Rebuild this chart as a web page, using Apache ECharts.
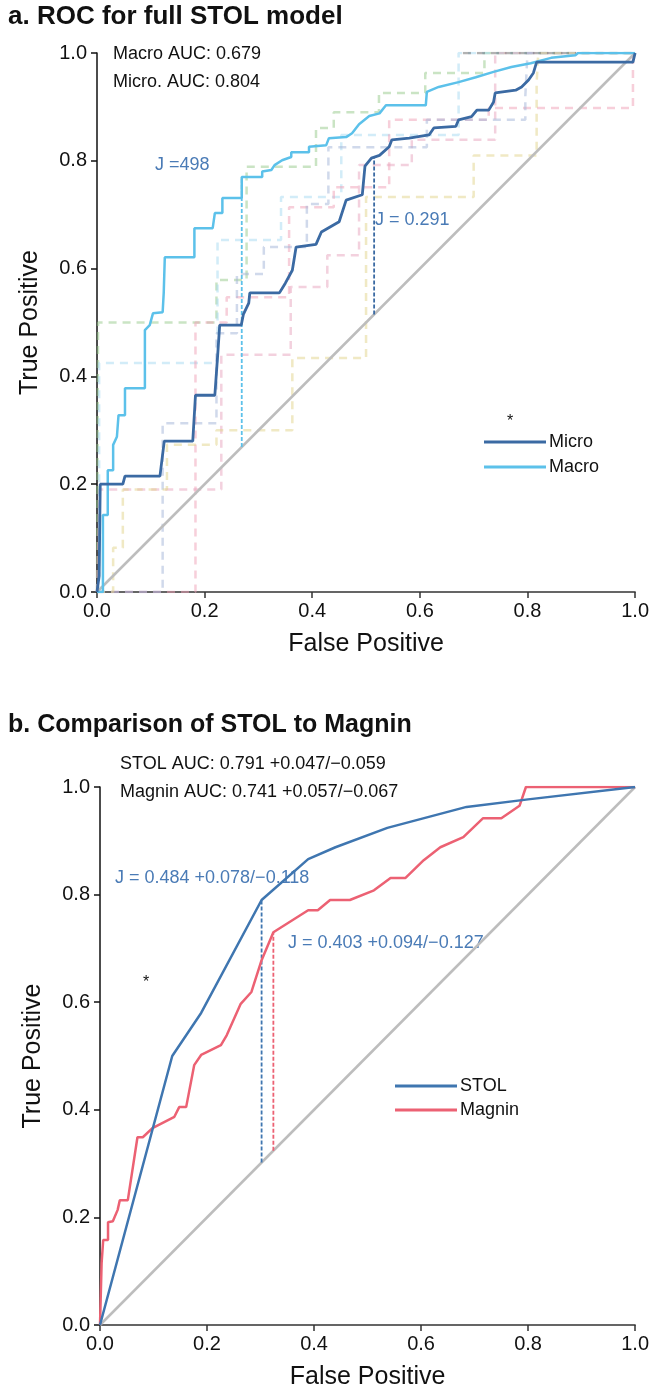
<!DOCTYPE html>
<html>
<head>
<meta charset="utf-8">
<script src="https://cdn.jsdelivr.net/npm/echarts@6/dist/echarts.min.js"></script>
<style>
  html, body { margin: 0; background: #fff; }
  #chart { width: 652px; height: 1392px; }
</style>
</head>
<body>
<div id="chart"></div>
<script>
// ---- panel a: ROC curves [fpr, tpr] ----
const microRoc = [[0,0],[0.004,0.03],[0.006,0.2],[0.048,0.2],[0.052,0.215],[0.117,0.215],[0.125,0.28],[0.178,0.28],[0.183,0.365],[0.219,0.365],[0.225,0.45],[0.228,0.495],[0.268,0.495],[0.272,0.515],[0.282,0.536],[0.284,0.555],[0.339,0.555],[0.35,0.573],[0.363,0.597],[0.37,0.64],[0.407,0.645],[0.417,0.668],[0.45,0.687],[0.463,0.727],[0.493,0.737],[0.498,0.79],[0.51,0.805],[0.525,0.81],[0.543,0.826],[0.548,0.839],[0.58,0.842],[0.617,0.848],[0.626,0.861],[0.667,0.864],[0.672,0.876],[0.696,0.882],[0.706,0.894],[0.728,0.894],[0.737,0.909],[0.74,0.926],[0.778,0.931],[0.789,0.937],[0.802,0.95],[0.811,0.963],[0.817,0.983],[0.996,0.983],[1,1]];
const macroRoc = [[0,0],[0.011,0],[0.011,0.143],[0.02,0.143],[0.02,0.226],[0.03,0.226],[0.03,0.273],[0.037,0.288],[0.04,0.328],[0.052,0.328],[0.052,0.378],[0.089,0.378],[0.089,0.486],[0.098,0.495],[0.104,0.517],[0.122,0.519],[0.124,0.555],[0.126,0.621],[0.181,0.621],[0.181,0.675],[0.215,0.675],[0.219,0.703],[0.233,0.703],[0.233,0.731],[0.269,0.731],[0.269,0.77],[0.307,0.77],[0.307,0.78],[0.324,0.783],[0.33,0.792],[0.344,0.801],[0.361,0.807],[0.361,0.816],[0.394,0.816],[0.394,0.826],[0.426,0.829],[0.431,0.842],[0.463,0.844],[0.474,0.851],[0.487,0.868],[0.506,0.883],[0.525,0.888],[0.537,0.903],[0.611,0.903],[0.613,0.928],[0.635,0.937],[0.672,0.946],[0.704,0.955],[0.737,0.965],[0.77,0.974],[0.806,0.981],[0.844,0.991],[0.889,0.996],[0.894,1],[1,1]];

// per-class curves (faint dashed)
const classGreen = [[0,0],[0.002,0],[0.002,0.5],[0.222,0.5],[0.222,0.579],[0.278,0.579],[0.278,0.789],[0.407,0.789],[0.407,0.861],[0.44,0.861],[0.44,0.89],[0.524,0.89],[0.524,0.926],[0.61,0.926],[0.61,0.963],[0.72,0.963],[0.72,1],[1,1]];
const classSky = [[0,0],[0.004,0],[0.004,0.425],[0.224,0.425],[0.224,0.653],[0.342,0.653],[0.342,0.733],[0.454,0.733],[0.454,0.848],[0.672,0.848],[0.672,1],[1,1]];
const classPinkA = [[0,0],[0.183,0],[0.183,0.5],[0.241,0.5],[0.241,0.547],[0.357,0.547],[0.357,0.714],[0.44,0.714],[0.44,0.751],[0.543,0.751],[0.543,0.876],[0.728,0.876],[0.728,0.898],[0.996,0.898],[0.996,1],[1,1]];
const classPinkB = [[0,0],[0.005,0.19],[0.231,0.19],[0.231,0.44],[0.36,0.44],[0.36,0.566],[0.428,0.566],[0.428,0.625],[0.487,0.625],[0.487,0.792],[0.585,0.792],[0.585,0.839],[0.74,0.839],[0.74,1],[1,1]];
const classSlate = [[0,0],[0.122,0],[0.122,0.313],[0.222,0.313],[0.222,0.48],[0.26,0.48],[0.26,0.59],[0.31,0.59],[0.31,0.64],[0.39,0.64],[0.39,0.72],[0.43,0.72],[0.43,0.825],[0.613,0.825],[0.613,0.876],[0.796,0.876],[0.796,0.92],[0.8,1],[1,1]];
const classYellow = [[0,0],[0.03,0],[0.03,0.082],[0.048,0.082],[0.048,0.19],[0.13,0.19],[0.13,0.273],[0.222,0.273],[0.222,0.3],[0.363,0.3],[0.363,0.434],[0.5,0.434],[0.5,0.733],[0.7,0.733],[0.7,0.81],[0.817,0.81],[0.817,0.944],[0.82,1],[1,1]];
const classGray = [[0.68,1],[0.89,1]];

const macroJ = [0.269, 0.77];
const microJ = [0.515, 0.805];

// ---- panel b: STOL vs Magnin ----
const stolRoc = [[0,0],[0.135,0.5],[0.189,0.58],[0.302,0.79],[0.389,0.866],[0.44,0.888],[0.537,0.924],[0.685,0.963],[0.8,0.977],[1,1]];
const magninRoc = [[0,0],[0.003,0.115],[0.006,0.158],[0.015,0.158],[0.015,0.191],[0.024,0.193],[0.033,0.214],[0.037,0.232],[0.052,0.232],[0.07,0.349],[0.08,0.349],[0.098,0.366],[0.139,0.387],[0.148,0.405],[0.161,0.405],[0.176,0.483],[0.189,0.502],[0.226,0.52],[0.237,0.539],[0.263,0.597],[0.283,0.619],[0.302,0.678],[0.324,0.73],[0.389,0.771],[0.407,0.771],[0.43,0.79],[0.467,0.79],[0.512,0.808],[0.543,0.831],[0.571,0.831],[0.605,0.864],[0.636,0.888],[0.679,0.907],[0.716,0.942],[0.75,0.942],[0.784,0.965],[0.796,1],[1,1]];
const stolJ = [0.302, 0.79];
const magninJ = [0.324, 0.73];

const chance = [[0,0],[1,1]];

const FONT = 'Liberation Sans, Arial, sans-serif';
const C_MICRO = '#3b6aa3', C_MACRO = '#5cc1ea', C_STOL = '#3f76b0', C_MAGNIN = '#ec6173', C_J = '#4a7bb6';

const chart = echarts.init(document.getElementById('chart'), null, { renderer: 'canvas' });

function axisX(gridIndex) {
  return {
    type: 'value', gridIndex, min: 0, max: 1, interval: 0.2,
    name: 'False Positive', nameLocation: 'middle', nameGap: 40,
    nameTextStyle: { fontFamily: FONT, fontSize: 25, color: '#111' },
    axisLine: { lineStyle: { color: '#333', width: 1.5 } },
    axisTick: { length: 6, lineStyle: { color: '#333', width: 1.5 } },
    axisLabel: { fontFamily: FONT, fontSize: 20, color: '#111', margin: 9, formatter: v => v.toFixed(1) },
    splitLine: { show: false }
  };
}
function axisY(gridIndex) {
  return {
    type: 'value', gridIndex, min: 0, max: 1, interval: 0.2,
    name: 'True Positive', nameLocation: 'middle', nameGap: 54, nameRotate: 90,
    nameTextStyle: { fontFamily: FONT, fontSize: 25, color: '#111' },
    axisLine: { lineStyle: { color: '#111', width: 1.5 } },
    axisTick: { length: 6, lineStyle: { color: '#111', width: 1.5 } },
    axisLabel: { fontFamily: FONT, fontSize: 20, color: '#111', margin: 10, formatter: v => v.toFixed(1) },
    splitLine: { show: false }
  };
}

function faint(name, data, color) {
  return {
    name, type: 'line', xAxisIndex: 0, yAxisIndex: 0, data, symbol: 'none', silent: true,
    lineStyle: { color, width: 2.5, opacity: 0.5, type: [8, 6] }, z: 1
  };
}
function jLine(xi, j, color) {
  return {
    type: 'line', xAxisIndex: xi, yAxisIndex: xi, symbol: 'none', silent: true,
    data: [[j[0], j[0]], [j[0], j[1]]],
    lineStyle: { color, width: 1.8, type: [4, 2] }, z: 3
  };
}
function solid(name, xi, data, color, w) {
  return {
    name, type: 'line', xAxisIndex: xi, yAxisIndex: xi, data, symbol: 'none',
    itemStyle: { color }, lineStyle: { color, width: w }, z: 5
  };
}
function legendItem(name, left, top) {
  return {
    data: [name], left, top, orient: 'vertical', icon: 'rect',
    itemWidth: 62, itemHeight: 3, selectedMode: false,
    textStyle: { fontFamily: FONT, fontSize: 18, color: '#111', padding: [0, 0, 0, -2] }
  };
}
function txt(text, left, top, size, color, weight) {
  return { type: 'text', left, top, style: { text, fontFamily: FONT, fontSize: size, fill: color, fontWeight: weight || 'normal' } };
}

chart.setOption({
  animation: false,
  grid: [
    { left: 97, top: 53, width: 540, height: 539 },
    { left: 100, top: 787, width: 540, height: 538 }
  ],
  xAxis: [axisX(0), axisX(1)],
  yAxis: [axisY(0), axisY(1)],
  legend: [
    legendItem('Micro', 479, 428),
    legendItem('Macro', 479, 453),
    legendItem('STOL', 390, 1072),
    legendItem('Magnin', 390, 1096)
  ],
  series: [
    faint('c-green', classGreen, '#95c98a'),
    faint('c-sky', classSky, '#a6d9f2'),
    faint('c-pinkA', classPinkA, '#efa0b6'),
    faint('c-pinkB', classPinkB, '#e8a3bd'),
    faint('c-slate', classSlate, '#a2b4d8'),
    faint('c-yellow', classYellow, '#e2d489'),
    faint('c-gray', classGray, '#666'),
    { type: 'line', xAxisIndex: 0, yAxisIndex: 0, data: chance, symbol: 'none', silent: true, lineStyle: { color: '#bdbdbd', width: 2.5 }, z: 2 },
    jLine(0, macroJ, C_MACRO),
    jLine(0, microJ, C_MICRO),
    solid('Macro', 0, macroRoc, C_MACRO, 2.5),
    solid('Micro', 0, microRoc, C_MICRO, 2.8),
    { type: 'line', xAxisIndex: 1, yAxisIndex: 1, data: chance, symbol: 'none', silent: true, lineStyle: { color: '#bdbdbd', width: 2.5 }, z: 2 },
    jLine(1, stolJ, C_STOL),
    jLine(1, magninJ, C_MAGNIN),
    solid('Magnin', 1, magninRoc, C_MAGNIN, 2.5),
    solid('STOL', 1, stolRoc, C_STOL, 2.5)
  ],
  graphic: [
    txt('a. ROC for full STOL model', 8, 4, 26, '#111', 'bold'),
    txt('Macro AUC: 0.679', 113, 45, 18, '#111'),
    txt('Micro. AUC: 0.804', 113, 73, 18, '#111'),
    txt('J =498', 155, 156, 18, C_J),
    txt('J = 0.291', 375, 211, 18, C_J),
    txt('*', 507, 414, 16, '#111'),
    txt('b. Comparison of STOL to Magnin', 8, 713, 25, '#111', 'bold'),
    txt('STOL AUC: 0.791 +0.047/\u22120.059', 120, 755, 18, '#111'),
    txt('Magnin AUC: 0.741 +0.057/\u22120.067', 120, 783, 18, '#111'),
    txt('J = 0.484 +0.078/\u22120.118', 115, 869, 18, C_J),
    txt('J = 0.403 +0.094/\u22120.127', 288, 934, 18, C_J),
    txt('*', 143, 975, 16, '#111')
  ]
});
</script>
</body>
</html>
